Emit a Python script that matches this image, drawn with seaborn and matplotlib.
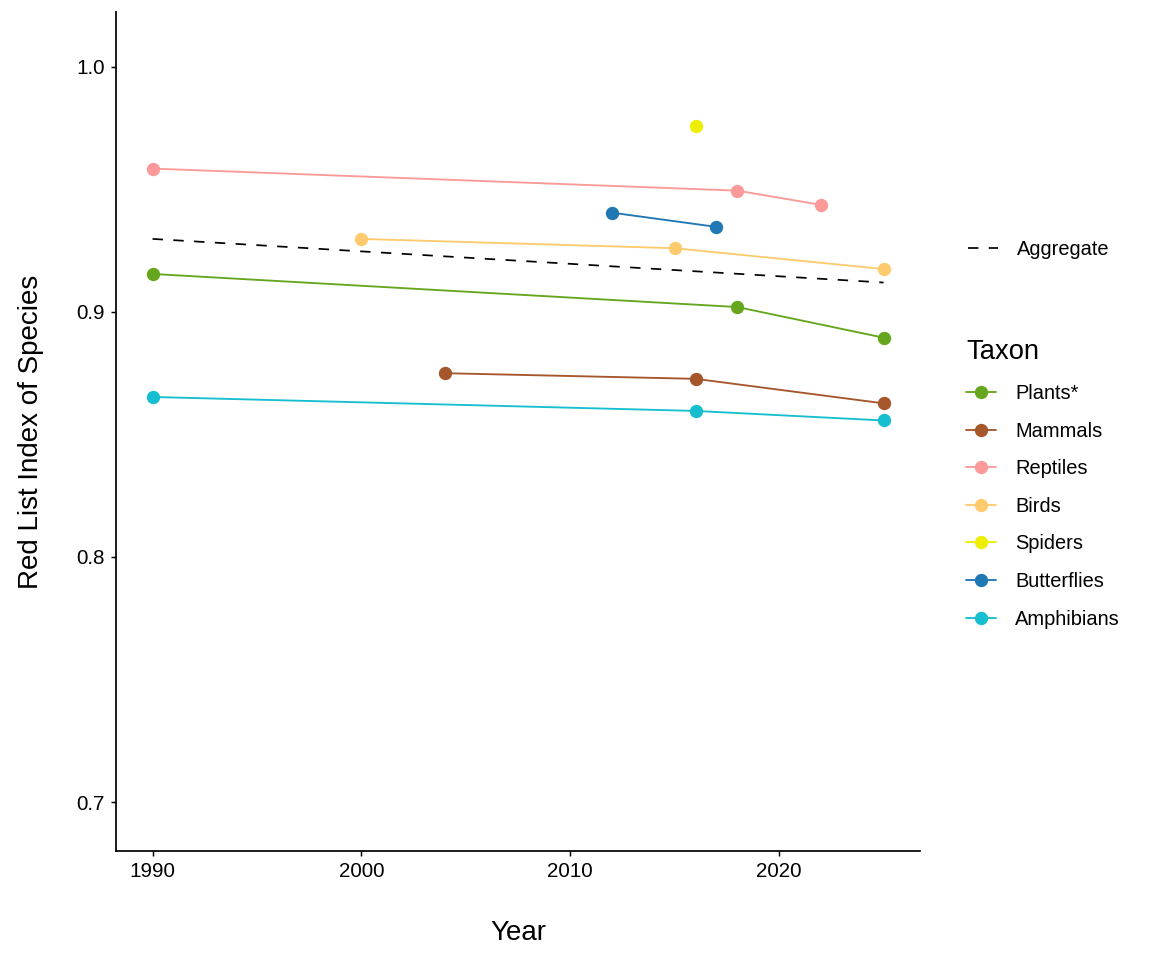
import pandas as pd
import matplotlib.pyplot as plt
import seaborn as sns
from matplotlib.lines import Line2D

# Data
taxa = ['Plants*', 'Mammals', 'Reptiles', 'Birds', 'Spiders', 'Butterflies', 'Amphibians']
colors = ['#66A61E', '#A6562B', '#FB9A99', '#FDCB6E', '#EEEE00', '#1F78B4', '#17BECF']

plants_years = [1990, 2018, 2025]
plants_rli = [0.9155, 0.902, 0.8895]
mammals_years = [2004, 2016, 2025]
mammals_rli = [0.875, 0.8727, 0.8627]
reptiles_years = [1990, 2018, 2022]
reptiles_rli = [0.9585, 0.9495, 0.9437]
birds_years = [2000, 2015, 2025]
birds_rli = [0.9298, 0.926, 0.9175]
spiders_years = [2016]
spiders_rli = [0.9760]
butterflies_years = [2012, 2017]
butterflies_rli = [0.9405, 0.9347]
amphibians_years = [1990, 2016, 2025]
amphibians_rli = [0.8653, 0.8596, 0.8557]

aggregate_years = [1990, 2025]
aggregate_rli = [0.9298, 0.9120]

series = {
    'Plants*': (plants_years, plants_rli),
    'Mammals': (mammals_years, mammals_rli),
    'Reptiles': (reptiles_years, reptiles_rli),
    'Birds': (birds_years, birds_rli),
    'Spiders': (spiders_years, spiders_rli),
    'Butterflies': (butterflies_years, butterflies_rli),
    'Amphibians': (amphibians_years, amphibians_rli),
}

rows = []
for name, (yrs, vals) in series.items():
    for yr, v in zip(yrs, vals):
        rows.append({'Year': yr, 'RLI': v, 'Taxon': name})
df = pd.DataFrame(rows)
agg_df = pd.DataFrame({'Year': aggregate_years, 'RLI': aggregate_rli})

sns.set_style('ticks')
plt.rcParams['font.family'] = ['Liberation Sans', 'DejaVu Sans']
plt.rcParams['text.color'] = 'black'
plt.rcParams['axes.labelcolor'] = 'black'

fig = plt.figure(figsize=(12, 10), dpi=96)
ax = fig.add_axes([0.1007, 0.1135, 0.698, 0.874])

dash = (0, (6, 6))
palette = dict(zip(taxa, colors))
sns.lineplot(data=df, x='Year', y='RLI', hue='Taxon', hue_order=taxa, palette=palette,
             marker='o', markersize=10, markeredgewidth=0, linewidth=1.4, ax=ax, legend=False)
sns.lineplot(data=agg_df, x='Year', y='RLI', color='black', linestyle=dash,
             linewidth=1.3, ax=ax, legend=False)

ax.set_xlim(1988.25, 2026.75)
ax.set_ylim(0.68, 1.0224)
ax.set_xticks([1990, 2000, 2010, 2020])
ax.set_yticks([0.7, 0.8, 0.9, 1.0])
ax.set_yticklabels(['0.7', '0.8', '0.9', '1.0'])
ax.tick_params(labelsize=15.5, length=4, width=1.1, colors='black', pad=4.5)
ax.set_xlabel('Year', fontsize=20.8, labelpad=29)
ax.set_ylabel('Red List Index of Species', fontsize=20.8, labelpad=24)
sns.despine(ax=ax)
for s in ['left', 'bottom']:
    ax.spines[s].set_linewidth(1.3)
    ax.spines[s].set_color('black')

# Legends
agg_handle = [Line2D([], [], color='black', linestyle=dash, linewidth=1.3)]
leg1 = fig.legend(agg_handle, ['Aggregate'], loc='center left', bbox_to_anchor=(0.8243, 0.7396),
                  frameon=False, fontsize=15, handlelength=1.5, handletextpad=0.95)

taxon_handles = [Line2D([], [], color=c, marker='o', markersize=10, markeredgewidth=0, linewidth=1.4)
                 for c in colors]
leg2 = fig.legend(taxon_handles, taxa, title='Taxon', loc='upper left', bbox_to_anchor=(0.8232, 0.6653),
                  frameon=False, fontsize=15, title_fontsize=20.5, handlelength=1.5, handletextpad=0.95,
                  labelspacing=0.93, alignment='left')

fig.savefig('out.png', dpi=96)
